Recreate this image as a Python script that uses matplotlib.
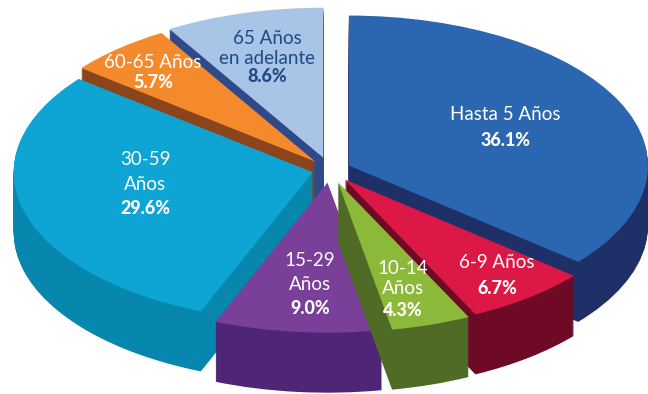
import matplotlib
matplotlib.use("Agg")
import matplotlib.pyplot as plt

groups = ["Hasta 5 Años", "6-9 Años", "10-14 Años", "15-29 Años", "30-59 Años", "60-65 Años", "65 Años en adelante"]
values = [36.1, 6.7, 4.3, 9.0, 29.6, 5.7, 8.6]
label_lines = [["Hasta 5 Años"], ["6-9 Años"], ["10-14", "Años"], ["15-29", "Años"], ["30-59", "Años"], ["60-65 Años"], ["65 Años", "en adelante"]]
explode = [0.07, 0.08, 0.085, 0.085, 0.06, 0.075, 0.085]
top_colors = ["#2a67b0", "#dc1846", "#8db93a", "#7a3f98", "#0ea5d5", "#f58a2c", "#a8c4e6"]
side_colors = ["#1f2f68", "#6e0a25", "#4f6b26", "#4f2575", "#0787ad", "#8a451c", "#2f4a8a"]
text_colors = ["white", "white", "white", "white", "white", "white", "#1f4a84"]
draw_rank = [2, 4, 6, 5, 3, 1, 0]
label_x = [505, 497, 403, 310, 145, 153, 267]
label_y = [[114, 141], [263, 288], [269, 289, 311], [260, 284, 309], [160, 185, 209], [62, 82], [39, 58, 76]]

W, H = 648, 394
CX, CY, RX, RY, DEPTH = 330, 170, 299, 150, 60

fig = plt.figure(figsize=(W / 100, H / 100), dpi=100)
ax = fig.add_axes([0, 0, 1, 1])


def to_data(px, py):
    return (px - CX) / RX, (CY - py) / RY


for k in range(DEPTH, -1, -1):
    face = top_colors if k == 0 else side_colors
    wedges, _ = ax.pie(values, explode=explode, colors=face, startangle=90, counterclock=False,
                       center=(0, -k / RY), radius=1.0, wedgeprops={"linewidth": 0})
    for w, rank in zip(wedges, draw_rank):
        w.set_zorder(rank + 0.5 if k == 0 else rank + 0.1 + 0.3 * (DEPTH - k) / DEPTH)

ax.set_aspect("auto")
ax.set_xlim(-CX / RX, (W - CX) / RX)
ax.set_ylim((CY - H) / RY, CY / RY)
ax.axis("off")

font = ["Lato", "DejaVu Sans"]
for lines, val, px, ys, col in zip(label_lines, values, label_x, label_y, text_colors):
    for t, py in zip(lines, ys):
        x, y = to_data(px, py)
        ax.text(x, y, t, color=col, family=font, fontsize=13.5, fontweight="normal",
                ha="center", va="center", zorder=20)
    x, y = to_data(px, ys[-1])
    ax.text(x, y, f"{val:.1f}%", color=col, family=font, fontsize=13, fontweight="black",
            ha="center", va="center", zorder=20)

fig.savefig("out.png", dpi=100, facecolor="white")
